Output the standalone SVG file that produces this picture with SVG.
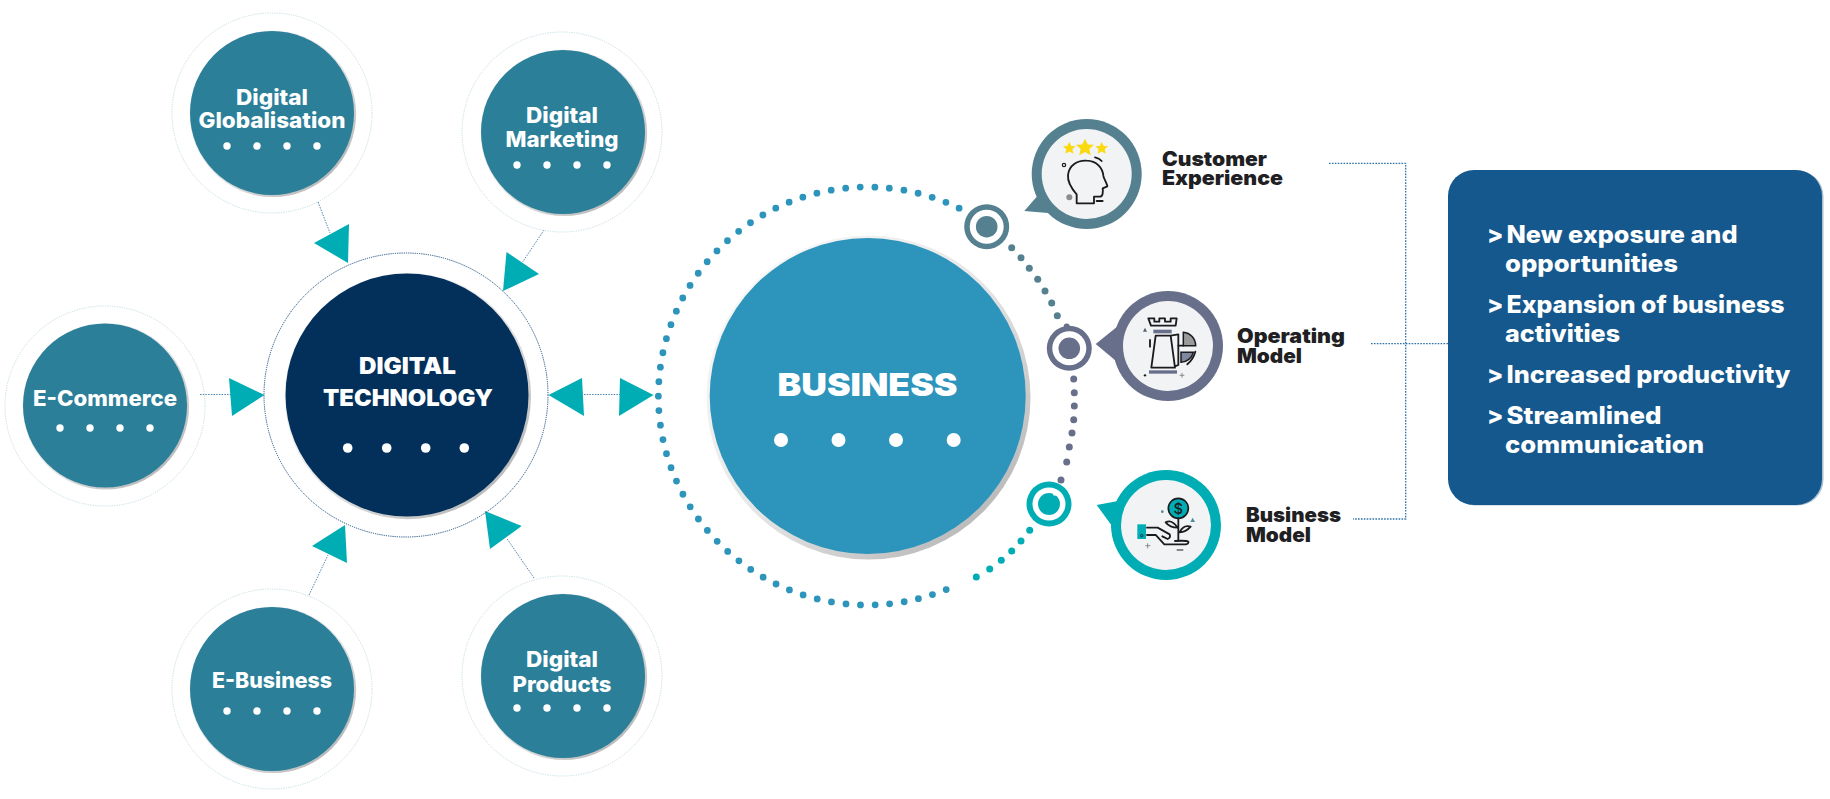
<svg xmlns="http://www.w3.org/2000/svg" width="1830" height="799" viewBox="0 0 1830 799">
<style>
  text { font-family: "Inter", "Liberation Sans", sans-serif; }
  .halo { fill: none; stroke: #c4dde4; stroke-width: 1; stroke-dasharray: 1.2 1.2; }
  .edge { fill: url(#rim); }
  .sat { fill: #2b7f99; }
  .pip { fill: #fff; }
  .sat-t { fill: #fff; font-size: 21.5px; font-weight: 800; text-anchor: middle; }
  .hub-t { fill: #fff; font-size: 23px; font-weight: 900; text-anchor: middle; }
  .lab { fill: #1f1f24; font-size: 20px; font-weight: 900; }
  .res { fill: #fff; font-size: 24px; font-weight: 800; }
  .link { fill: none; stroke: #4f86b5; stroke-width: 1; stroke-dasharray: 1.5 1.2; }
  .frame { fill: none; stroke: #2f72a8; stroke-width: 1.3; stroke-dasharray: 1.6 1.3; }
  .tip { fill: #00adb5; }
  .d-slate { fill: #54808f; }
  .d-indigo { fill: #686f8b; }
  .d-teal { fill: #00adb5; }
  .ink { fill: none; stroke: #1b1b1f; stroke-width: 5.5; stroke-linecap: round; stroke-linejoin: round; }
</style>
<defs>
  <linearGradient id="rim" x1="0.15" y1="0.15" x2="0.85" y2="0.85">
    <stop offset="0" stop-color="#f6f6f6"/>
    <stop offset="0.5" stop-color="#e6e6e6"/>
    <stop offset="1" stop-color="#bcbcbc"/>
  </linearGradient>
  <polygon id="star" points="0,-10 3.2,-3.6 10,-3.3 4.8,1.6 6.4,8.4 0,4.9 -6.4,8.4 -4.8,1.6 -10,-3.3 -3.2,-3.6"/>
</defs>

<g id="connectors">
  <path class="link" d="M318 202L330 233"/>
  <path class="link" d="M544 230L522.6 262"/>
  <path class="link" d="M200 394.5H232"/>
  <path class="link" d="M584 394.5H620"/>
  <path class="link" d="M309 595L328 555"/>
  <path class="link" d="M534 578L506.5 538"/>
  <polygon class="tip" points="314,243 349,224 348,263"/>
  <polygon class="tip" points="506.5,252 539,274 503,291"/>
  <polygon class="tip" points="229,378 264.5,395 232,416"/>
  <polygon class="tip" points="548.5,395 582,378 584,416"/>
  <polygon class="tip" points="620,378 653.5,395 619,416"/>
  <polygon class="tip" points="345,525 312,546 347,563"/>
  <polygon class="tip" points="485,511 521.7,526 490,549"/>
  <path class="frame" d="M1329 163.3H1405.7V519H1353"/>
  <path class="frame" d="M1371 343.7H1448"/>
</g>

<g id="digital-globalisation">
  <circle class="halo" cx="272" cy="113" r="100"/>
  <circle class="edge" cx="272.8" cy="113.8" r="83.3"/>
  <circle class="sat" cx="272" cy="113" r="82"/>
  <text class="sat-t" x="272" y="104.5" textLength="72" lengthAdjust="spacingAndGlyphs">Digital</text>
  <text class="sat-t" x="272" y="128" textLength="147" lengthAdjust="spacingAndGlyphs">Globalisation</text>
  <circle class="pip" cx="227" cy="146" r="3.7"/><circle class="pip" cx="257" cy="146" r="3.7"/><circle class="pip" cx="287" cy="146" r="3.7"/><circle class="pip" cx="317" cy="146" r="3.7"/>
</g>

<g id="digital-marketing">
  <circle class="halo" cx="562" cy="132" r="100"/>
  <circle class="edge" cx="563.8" cy="132.8" r="83.3"/>
  <circle class="sat" cx="563" cy="132" r="82"/>
  <text class="sat-t" x="562" y="123" textLength="72" lengthAdjust="spacingAndGlyphs">Digital</text>
  <text class="sat-t" x="562" y="147" textLength="113" lengthAdjust="spacingAndGlyphs">Marketing</text>
  <circle class="pip" cx="517" cy="165" r="3.7"/><circle class="pip" cx="547" cy="165" r="3.7"/><circle class="pip" cx="577" cy="165" r="3.7"/><circle class="pip" cx="607" cy="165" r="3.7"/>
</g>

<g id="e-commerce">
  <circle class="halo" cx="105" cy="406" r="100"/>
  <circle class="edge" cx="105.8" cy="406.3" r="83.3"/>
  <circle class="sat" cx="105" cy="405.5" r="82"/>
  <text class="sat-t" x="105" y="405.5" textLength="144" lengthAdjust="spacingAndGlyphs">E-Commerce</text>
  <circle class="pip" cx="60" cy="428" r="3.7"/><circle class="pip" cx="90" cy="428" r="3.7"/><circle class="pip" cx="120" cy="428" r="3.7"/><circle class="pip" cx="150" cy="428" r="3.7"/>
</g>

<g id="e-business">
  <circle class="halo" cx="272" cy="689" r="100"/>
  <circle class="edge" cx="272.8" cy="689.8" r="83.3"/>
  <circle class="sat" cx="272" cy="689" r="82"/>
  <text class="sat-t" x="272" y="688" textLength="120" lengthAdjust="spacingAndGlyphs">E-Business</text>
  <circle class="pip" cx="227" cy="711" r="3.7"/><circle class="pip" cx="257" cy="711" r="3.7"/><circle class="pip" cx="287" cy="711" r="3.7"/><circle class="pip" cx="317" cy="711" r="3.7"/>
</g>

<g id="digital-products">
  <circle class="halo" cx="562" cy="676" r="100"/>
  <circle class="edge" cx="563.8" cy="676.8" r="83.3"/>
  <circle class="sat" cx="563" cy="676" r="82"/>
  <text class="sat-t" x="562" y="667" textLength="72" lengthAdjust="spacingAndGlyphs">Digital</text>
  <text class="sat-t" x="562" y="691.5" textLength="99" lengthAdjust="spacingAndGlyphs">Products</text>
  <circle class="pip" cx="517" cy="708" r="3.7"/><circle class="pip" cx="547" cy="708" r="3.7"/><circle class="pip" cx="577" cy="708" r="3.7"/><circle class="pip" cx="607" cy="708" r="3.7"/>
</g>

<g id="digital-technology">
  <circle cx="406" cy="395" r="142" fill="none" stroke="#1d4f82" stroke-width="1" stroke-dasharray="1.2 1"/>
  <circle class="edge" cx="407.8" cy="396" r="123.2"/>
  <circle cx="407" cy="395" r="121.5" fill="#02305b"/>
  <text class="hub-t" x="407.5" y="374" textLength="97" lengthAdjust="spacingAndGlyphs">DIGITAL</text>
  <text class="hub-t" x="408" y="406" textLength="170" lengthAdjust="spacingAndGlyphs">TECHNOLOGY</text>
  <circle class="pip" cx="347.7" cy="448" r="4.8"/><circle class="pip" cx="386.7" cy="448" r="4.8"/><circle class="pip" cx="425.7" cy="448" r="4.8"/><circle class="pip" cx="464.3" cy="448" r="4.8"/>
</g>

<g id="business">
  <path d="M959.1 208.2A209 209 0 1 0 959.1 583.8" fill="none" stroke="#2d94bb" stroke-width="6.8" stroke-linecap="round" stroke-dasharray="0 14.59"/>
  <circle class="edge" cx="868.5" cy="397.5" r="162"/>
  <circle cx="867.7" cy="396" r="158" fill="#2d94bb"/>
  <text x="867.5" y="396" fill="#fff" font-size="32" font-weight="900" text-anchor="middle" textLength="180" lengthAdjust="spacingAndGlyphs">BUSINESS</text>
  <circle class="pip" cx="781" cy="440" r="7"/><circle class="pip" cx="838.5" cy="440" r="7"/><circle class="pip" cx="896" cy="440" r="7"/><circle class="pip" cx="953.7" cy="440" r="7"/>
</g>

<g id="customer-experience">
  <g class="d-slate">
    <circle cx="1011.7" cy="247.7" r="3.5"/><circle cx="1021" cy="257.7" r="3.5"/><circle cx="1029.3" cy="268.3" r="3.5"/><circle cx="1037.7" cy="279.3" r="3.5"/><circle cx="1045" cy="291" r="3.5"/><circle cx="1051.7" cy="303" r="3.5"/><circle cx="1057.3" cy="315.7" r="3.5"/>
  </g>
  <circle cx="986.7" cy="226.7" r="22.5" fill="#54808f"/>
  <circle cx="986.7" cy="226.7" r="17" fill="#fff"/>
  <circle cx="986.7" cy="226.7" r="10.8" fill="#54808f"/>
  <path d="M1024.3 211L1040 193L1060 214Z" fill="#54808f"/>
  <circle cx="1086.7" cy="174" r="55" fill="#54808f"/>
  <circle cx="1086.7" cy="174" r="45" fill="#f1f3f4"/>
  <g transform="translate(1050 125) scale(.3333)">
    <use href="#star" transform="translate(58 70) scale(1.9)" fill="#fbd90f"/>
    <use href="#star" transform="translate(105 68) scale(2.7)" fill="#fbd90f"/>
    <use href="#star" transform="translate(155 70) scale(1.9)" fill="#fbd90f"/>
    <path class="ink" d="M80 235V208C66 192 52 172 54 150C57 122 82 105 110 107C140 108 158 128 160 152C161 160 172 178 172 184L158 190C160 202 158 215 150 215H132V235Z"/>
    <path class="ink" d="M135 97Q148 100 155 108M140 228H158" stroke-width="3"/>
    <circle cx="42" cy="120" r="5" fill="none" stroke="#1b1b1f" stroke-width="3.5"/>
    <circle cx="58" cy="217" r="9" fill="#8c8c8c"/>
  </g>
  <text class="lab" x="1162" y="165.5" textLength="105" lengthAdjust="spacingAndGlyphs">Customer</text>
  <text class="lab" x="1162" y="185" textLength="121" lengthAdjust="spacingAndGlyphs">Experience</text>
</g>

<g id="operating-model">
  <g class="d-indigo">
    <circle cx="1073.7" cy="379" r="3.5"/><circle cx="1074.3" cy="392.7" r="3.5"/><circle cx="1074.3" cy="406" r="3.5"/><circle cx="1073.7" cy="419.7" r="3.5"/><circle cx="1072" cy="433" r="3.5"/><circle cx="1069.3" cy="447" r="3.5"/><circle cx="1066.7" cy="462" r="3.5"/><circle cx="1061" cy="480" r="3.5"/>
    <circle cx="1066.7" cy="326.5" r="3"/>
  </g>
  <circle cx="1069.3" cy="348.3" r="22.5" fill="#686f8b"/>
  <circle cx="1069.3" cy="348.3" r="17" fill="#fff"/>
  <circle cx="1069.3" cy="348.3" r="10.8" fill="#686f8b"/>
  <path d="M1095.7 344L1118 326L1122 366Z" fill="#686f8b"/>
  <circle cx="1168" cy="346" r="55" fill="#686f8b"/>
  <circle cx="1168" cy="346" r="45" fill="#f1f3f4"/>
  <g transform="translate(1125 305) scale(.3333)">
    <path class="ink" d="M70 40H88V50H103V40H120V50H137V40H155L152 62H78Z"/>
    <rect x="85" y="74" width="55" height="11" fill="#686f8b"/>
    <path class="ink" d="M92 92L79 188H150L137 92ZM137 92L160 88V180L150 184M75 105V125"/>
    <path d="M175 82A40 40 0 0 1 212 122H175Z" fill="#9a9a9a" stroke="#1b1b1f" stroke-width="4.5"/>
    <path d="M168 142H205A40 40 0 0 1 168 172Z" fill="#7f86a0" stroke="#1b1b1f" stroke-width="4.5"/>
    <path class="ink" d="M160 122H175M187 178Q204 164 211 140" stroke-width="3"/>
    <rect x="72" y="196" width="84" height="10" fill="#686f8b"/>
    <polygon points="60,68 66,80 54,80" fill="#54606f"/>
    <circle cx="60" cy="211" r="3.5" fill="#1b1b1f"/>
    <path d="M171 204V218M164 211H178" stroke="#8a8a8a" stroke-width="3"/>
  </g>
  <text class="lab" x="1237" y="343" textLength="108" lengthAdjust="spacingAndGlyphs">Operating</text>
  <text class="lab" x="1237" y="363" textLength="65" lengthAdjust="spacingAndGlyphs">Model</text>
</g>

<g id="business-model">
  <g class="d-teal">
    <circle cx="1029.7" cy="530.3" r="3.5"/><circle cx="1021" cy="541" r="3.5"/><circle cx="1011.7" cy="551" r="3.5"/><circle cx="1001.3" cy="560.3" r="3.5"/><circle cx="989.7" cy="569" r="3.5"/><circle cx="976.3" cy="577" r="3.5"/>
  </g>
  <circle cx="1049" cy="504" r="22.5" fill="#00adb5"/>
  <circle cx="1049" cy="504" r="16.5" fill="#fff"/>
  <circle cx="1049" cy="504" r="11" fill="#00adb5"/>
  <circle cx="1055" cy="493.5" r="2.2" fill="#fff"/>
  <path d="M1096.7 505L1118 501L1112 526Z" fill="#00adb5"/>
  <circle cx="1166" cy="525" r="55" fill="#00adb5"/>
  <circle cx="1166" cy="525" r="45" fill="#f1f3f4"/>
  <g transform="translate(1125 485) scale(.3333)">
    <circle cx="160" cy="70" r="30" fill="#00adb5" stroke="#1b1b1f" stroke-width="5"/>
    <text x="160" y="86" fill="#1b1b1f" font-size="44" font-weight="500" text-anchor="middle">$</text>
    <path class="ink" d="M160 100V165M158 128Q140 102 122 112Q135 128 158 128ZM164 142Q182 142 197 125Q175 118 164 142Z"/>
    <rect x="37" y="118" width="26" height="44" fill="#00adb5"/>
    <circle cx="50" cy="152" r="3.5" fill="none" stroke="#1b1b1f" stroke-width="2.5"/>
    <path class="ink" d="M66 128H98L134 148Q138 158 128 162L112 154M66 150H92L118 178H182Q192 176 190 170Q186 166 150 168"/>
    <path d="M68 175V190M61 182H76" stroke="#8a8a8a" stroke-width="3"/>
    <circle cx="112" cy="80" r="4" fill="#4f8aa0"/>
    <polygon points="203,98 210,111 196,111" fill="#4f8aa0"/>
    <path d="M155 195H175" stroke="#1b1b1f" stroke-width="3"/>
  </g>
  <text class="lab" x="1246" y="522" textLength="95" lengthAdjust="spacingAndGlyphs">Business</text>
  <text class="lab" x="1246" y="541.5" textLength="65" lengthAdjust="spacingAndGlyphs">Model</text>
</g>

<g id="outcomes">
  <rect x="1449.5" y="170.5" width="374" height="335" rx="26" fill="#a9bfd2"/>
  <rect x="1448" y="170" width="374" height="335" rx="26" fill="#15588d"/>
  <text class="res" x="1487" y="243">&gt;</text>
  <text class="res" x="1506.5" y="243" textLength="231" lengthAdjust="spacingAndGlyphs">New exposure and</text>
  <text class="res" x="1505" y="272" textLength="173" lengthAdjust="spacingAndGlyphs">opportunities</text>
  <text class="res" x="1487" y="313">&gt;</text>
  <text class="res" x="1506.5" y="313" textLength="278" lengthAdjust="spacingAndGlyphs">Expansion of business</text>
  <text class="res" x="1505" y="342" textLength="115" lengthAdjust="spacingAndGlyphs">activities</text>
  <text class="res" x="1487" y="383">&gt;</text>
  <text class="res" x="1506.5" y="383" textLength="284" lengthAdjust="spacingAndGlyphs">Increased productivity</text>
  <text class="res" x="1487" y="424">&gt;</text>
  <text class="res" x="1506.5" y="424" textLength="155" lengthAdjust="spacingAndGlyphs">Streamlined</text>
  <text class="res" x="1505" y="453" textLength="199" lengthAdjust="spacingAndGlyphs">communication</text>
</g>
</svg>
